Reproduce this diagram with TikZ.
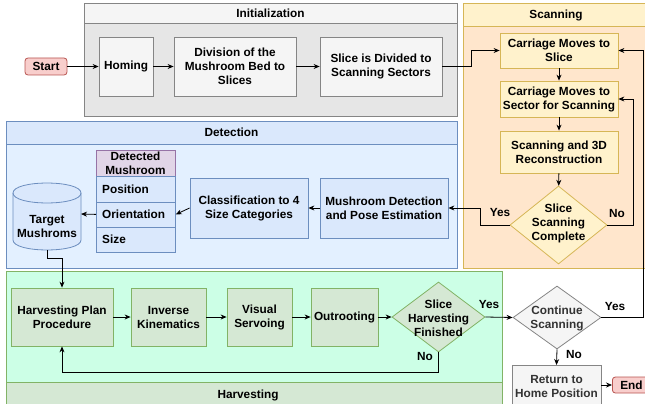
\documentclass[tikz,border=0pt]{standalone}
\usepackage{fontspec}
\setmainfont{Liberation Sans}
\usetikzlibrary{arrows.meta,shapes.geometric}
\definecolor{grayF}{HTML}{F5F5F5}
\definecolor{grayB}{HTML}{E6E6E6}
\definecolor{grayS}{HTML}{666666}
\definecolor{grayT}{HTML}{333333}
\definecolor{yelF}{HTML}{FFF2CC}
\definecolor{yelS}{HTML}{D6B656}
\definecolor{orgF}{HTML}{FFE6CC}
\definecolor{bluF}{HTML}{DAE8FC}
\definecolor{bluB}{HTML}{E3F0FF}
\definecolor{bluS}{HTML}{6C8EBF}
\definecolor{grnF}{HTML}{D5E8D4}
\definecolor{grnB}{HTML}{CCFFE6}
\definecolor{grnS}{HTML}{82B366}
\definecolor{redF}{HTML}{F8CECC}
\definecolor{redS}{HTML}{B85450}
\definecolor{purF}{HTML}{E1D5E7}
\definecolor{purS}{HTML}{9673A6}
\tikzset{
  every node/.style={font=\fontsize{11.8}{14}\selectfont\bfseries, align=center, inner sep=1pt},
  box/.style={draw, rectangle, line width=0.8pt},
  gbox/.style={box, fill=grayF, draw=grayS!80},
  ybox/.style={box, fill=yelF, draw=yelS},
  bbox/.style={box, fill=bluF, draw=bluS},
  hbox/.style={box, fill=grnF, draw=grnS},
  term/.style={draw=redS, fill=redF, rounded corners=3pt, line width=0.8pt},
  dia/.style={diamond, draw, line width=0.8pt, inner sep=0pt},
  arr/.style={-{Stealth[length=6pt,width=5pt]}, line width=0.8pt},
  lbl/.style={font=\fontsize{11.8}{14}\selectfont\bfseries},
}
\begin{document}
\begin{tikzpicture}[x=1pt,y=-1pt]
\useasboundingbox (0,0) rectangle (645,404);
% containers
\begin{scope}
\clip (0,0) rectangle (645,404);
% Initialization
\draw[grayS!80, fill=grayB, line width=0.8pt] (84,3) rectangle (457,116);
\draw[grayS!80, fill=grayF, line width=0.8pt] (84,3) rectangle (457,23);
\node (tinit) at (270.5,13) {Initialization};
% Scanning
\draw[yelS, fill=orgF, line width=0.8pt] (463,3) rectangle (648,268);
\draw[yelS, fill=yelF, line width=0.8pt] (463,3) rectangle (648,26);
\node (tscan) at (556,15) {Scanning};
% Detection
\draw[bluS, fill=bluB, line width=0.8pt] (6,121) rectangle (457,268);
\draw[bluS, fill=bluF, line width=0.8pt] (6,121) rectangle (457,144);
\node (tdet) at (231.5,132.5) {Detection};
% Harvesting
\draw[grnS, fill=grnB, line width=0.8pt] (6,271) rectangle (502,412);
\draw[grnS, fill=grnF, line width=0.8pt] (6,382) rectangle (502,412);
\node (thar) at (248,395) {Harvesting};
\end{scope}

% Initialization nodes
\node[term, minimum width=42pt, minimum height=17pt] (start) at (46,66.5) {Start};
\node[gbox, minimum width=54pt, minimum height=59pt] (homing) at (126,66.5) {Homing};
\node[gbox, minimum width=122pt, minimum height=59pt] (div) at (235,66.5) {Division of the\\Mushroom Bed to\\Slices};
\node[gbox, minimum width=122pt, minimum height=59pt] (slice) at (381,66.5) {Slice is Divided to\\Scanning Sectors};

% Scanning nodes
\node[ybox, minimum width=118pt, minimum height=35pt] (cslice) at (559,50.5) {Carriage Moves to\\Slice};
\node[ybox, minimum width=118pt, minimum height=36pt] (csector) at (559,99) {Carriage Moves to\\Sector for Scanning};
\node[ybox, minimum width=118pt, minimum height=42pt] (scan3d) at (559,152) {Scanning and 3D\\Reconstruction};
\node[dia, fill=yelF, draw=yelS, minimum width=97pt, minimum height=78pt] (sdone) at (558.5,225) {};
\node (sdonet) at (558.5,223.5) {Slice\\Scanning\\Complete};

% Detection nodes
\node[bbox, minimum width=128pt, minimum height=60pt] (mdet) at (384,208) {Mushroom Detection\\and Pose Estimation};
\node[bbox, minimum width=118pt, minimum height=60pt] (cls) at (249,208) {Classification to 4\\Size Categories};
\node[box, fill=purF, draw=purS, minimum width=79pt, minimum height=26pt, anchor=north west] (thead) at (96,150) {};
\node (theadt) at (135.5,163) {Detected\\Mushroom};
\node[bbox, minimum width=79pt, minimum height=25.5pt, anchor=north west] (tpos) at (96,176) {};
\node[bbox, minimum width=79pt, minimum height=25pt, anchor=north west] (tori) at (96,201.5) {};
\node[bbox, minimum width=79pt, minimum height=25.5pt, anchor=north west] (tsize) at (96,226.5) {};
\node[anchor=west] at (101,189) {Position};
\node[anchor=west] at (101,214) {Orientation};
\node[anchor=west] at (101,239.5) {Size};
% cylinder
\draw[bluS, fill=bluF, line width=0.8pt] (13,193) -- (13,240) .. controls (13,253.3) and (81,253.3) .. (81,240) -- (81,193) .. controls (81,179.7) and (13,179.7) .. (13,193) -- cycle;
\draw[bluS, line width=0.8pt] (13,193) .. controls (13,206.3) and (81,206.3) .. (81,193);
\coordinate (cylR) at (81,214);
\coordinate (cylB) at (47,250);
\node (cylt) at (47,226) {Target\\Mushroms};

% Harvesting nodes
\node[hbox, minimum width=102pt, minimum height=58pt] (plan) at (62,317) {Harvesting Plan\\Procedure};
\node[hbox, minimum width=75pt, minimum height=58pt] (ik) at (168.5,317) {Inverse\\Kinematics};
\node[hbox, minimum width=65pt, minimum height=58pt] (vs) at (259.5,317) {Visual\\Servoing};
\node[hbox, minimum width=67pt, minimum height=58pt] (outr) at (344.5,317) {Outrooting};
\node[dia, fill=grnF, draw=grnS, minimum width=93pt, minimum height=70pt] (hdone) at (438.5,317) {};
\node (hdonet) at (438.5,318) {Slice\\Harvesting\\Finished};

% Continue / end
\node[dia, fill=grayF, draw=grayS!80, minimum width=88pt, minimum height=63pt] (cont) at (557,317.5) {};
\node[text=grayT] (contt) at (557,318) {Continue\\Scanning};
\begin{scope}
\clip (0,0) rectangle (645,404);
\node[gbox, minimum width=89pt, minimum height=44pt, anchor=north] (ret) at (556.5,365) {};
\node[text=grayT] (rett) at (556.5,386) {Return to\\Home Position};
\node[term, minimum width=38pt, minimum height=16pt, anchor=west] (endn) at (612,385) {End};
\end{scope}

% connectors
\draw[arr] (start) -- (homing);
\draw[arr] (homing) -- (div);
\draw[arr] (div) -- (slice);
\draw[arr] (slice.east) -- (471,66.5) |- (cslice.west);
\draw[arr] (cslice) -- (csector);
\draw[arr] (csector) -- (scan3d);
\draw[arr] (scan3d) -- (sdone);
\draw[arr] (sdone.east) -- (633,225) |- (csector.east);
\draw[arr] (sdone.west) -- (480,225) |- (mdet.east);
\draw[arr] (mdet) -- (cls);
\draw[arr] (cls.west) -- (tori.east);
\draw[arr] (tori.west) -- (cylR);
\draw[arr] (cylB) -- (47,258) -| (plan.north);
\draw[arr] (plan) -- (ik);
\draw[arr] (ik) -- (vs);
\draw[arr] (vs) -- (outr);
\draw[arr] (outr) -- (hdone);
\draw[arr] (hdone.south) -- (438.5,372) -| (plan.south);
\draw[arr] (hdone.east) -- (cont.west);
\draw[arr] (cont.east) -- (643,317.5) |- (cslice.east);
\draw[arr] (cont.south) -- (ret.north);
\draw[arr] (ret.east |- endn.west) -- (endn.west);

% labels
\node[lbl] (l1) at (500,212) {Yes};
\node[lbl] (l2) at (617,213) {No};
\node[lbl] (l3) at (489,304) {Yes};
\node[lbl] (l4) at (425,356) {No};
\node[lbl] (l5) at (615,306) {Yes};
\node[lbl] (l6) at (574,354) {No};
\end{tikzpicture}
\end{document}
